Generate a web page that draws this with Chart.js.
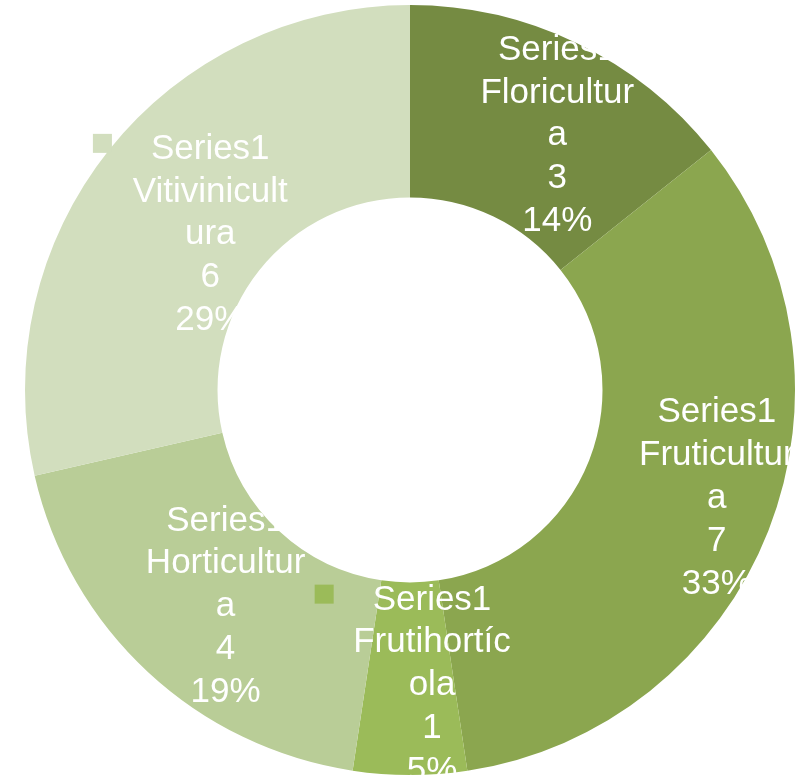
<!DOCTYPE html>
<html>
<head>
<meta charset="utf-8">
<script src="https://cdn.jsdelivr.net/npm/chart.js@4/dist/chart.umd.min.js"></script>
<style>
  html, body { margin: 0; padding: 0; background: #ffffff; }
  #wrap { width: 805px; height: 776px; position: relative; }
</style>
</head>
<body>
<div id="wrap"><canvas id="c" width="805" height="776"></canvas></div>
<script>
// ---- data ----
const seriesName = 'Series1';
const categories = ['Floricultura', 'Fruticultura', 'Frutihortícola', 'Horticultura', 'Vitivinicultura'];
const values = [3, 7, 1, 4, 6];
// category names as wrapped in the reference labels
const wrappedNames = [
  ['Floricultur', 'a'],
  ['Fruticultur', 'a'],
  ['Frutihortíc', 'ola'],
  ['Horticultur', 'a'],
  ['Vitivinicult', 'ura']
];
const showLegendKey = [false, false, true, false, true];

// ---- styles ----
const colors = ['#758B42', '#8BA64F', '#9BBB59', '#B9CD97', '#D2DEBE'];
const labelOffsets = [[22, 3], [38, 0], [22, 4], [12, 2], [26, 22]];

const total = values.reduce((a, b) => a + b, 0);

const labelPlugin = {
  id: 'excelLabels',
  afterDatasetsDraw(chart) {
    const ctx = chart.ctx;
    const meta = chart.getDatasetMeta(0);
    const fontSize = 35;
    const lineH = 42.8;
    ctx.save();
    ctx.font = fontSize + 'px "Liberation Sans", Arial, sans-serif';
    ctx.fillStyle = '#ffffff';
    ctx.textAlign = 'center';
    ctx.textBaseline = 'alphabetic';
    meta.data.forEach((arc, i) => {
      const p = arc.getProps(['x', 'y', 'startAngle', 'endAngle', 'innerRadius', 'outerRadius'], true);
      const mid = (p.startAngle + p.endAngle) / 2;
      const r = (p.innerRadius + p.outerRadius) / 2;
      const cx = p.x + Math.cos(mid) * r + labelOffsets[i][0];
      const cy = p.y + Math.sin(mid) * r + labelOffsets[i][1];
      const pct = Math.round(values[i] / total * 100) + '%';
      const lines = [seriesName, ...wrappedNames[i], String(values[i]), pct];
      const n = lines.length;
      lines.forEach((t, k) => {
        const capCenter = cy + (k - (n - 1) / 2) * lineH;
        ctx.fillText(t, cx, capCenter + 0.358 * fontSize);
      });
      if (showLegendKey[i]) {
        const firstW = ctx.measureText(lines[0]).width;
        const firstCenter = cy - (n - 1) / 2 * lineH;
        const size = 19;
        const right = cx - firstW / 2 - 39;
        ctx.fillStyle = colors[i];
        ctx.fillRect(right - size, firstCenter - 3 - size / 2, size, size);
        ctx.fillStyle = '#ffffff';
      }
    });
    ctx.restore();
  }
};

new Chart(document.getElementById('c'), {
  type: 'doughnut',
  data: {
    labels: categories,
    datasets: [{
      label: seriesName,
      data: values,
      backgroundColor: colors,
      borderWidth: 0
    }]
  },
  options: {
    responsive: false,
    animation: false,
    cutout: '50%',
    layout: { padding: { left: 25, right: 10, top: 5, bottom: 1 } },
    plugins: {
      legend: { display: false },
      tooltip: { enabled: false }
    }
  },
  plugins: [labelPlugin]
});
</script>
</body>
</html>
